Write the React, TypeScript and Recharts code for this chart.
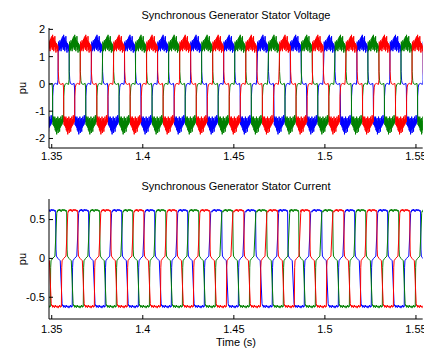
import { LineChart, Line, XAxis, YAxis } from 'recharts';

const FONT = '"Liberation Sans", Arial, Helvetica, sans-serif';

const timeTicks = [1.35, 1.4, 1.45, 1.5, 1.55];
const timeDomain = [1.3485, 1.5537];
const voltageTicks = [-2, -1, 0, 1, 2];
const voltageDomain = [-2.35, 2.05];
const currentTicks = [-0.5, 0, 0.5];
const currentDomain = [-0.78, 0.765];

// electrical period (11 cycles over 0.2 s)
const period = 0.01822;

// centres of the blue phase's positive plateau in each plot (s)
const voltageCentres = [
  1.3202, 1.3384, 1.3566, 1.3749, 1.393, 1.4112, 1.4293, 1.4475, 1.466, 1.484,
  1.5025, 1.5206, 1.5388, 1.5569,
];
const currentCentres = [
  1.3315, 1.3496, 1.3677, 1.3859, 1.404, 1.4221, 1.4408, 1.4594, 1.477, 1.4957,
  1.5138, 1.5319, 1.55,
];

const phases = [
  { name: 'a', color: '#0000ff', lag: 0 },
  { name: 'b', color: '#008000', lag: 120 },
  { name: 'c', color: '#ff0000', lag: 240 },
];

// one cycle of each trace: [degrees from plateau centre, pu]
const voltageCycle: [number, number][] = [
  [-60, 1.1], [-57, 1.55], [-53, 1.2], [-49, 1.5], [-45, 1.25], [-41, 1.6], [-37, 1.3],
  [-33, 1.55], [-29, 1.2], [-25, 1.65], [-21, 1.3], [-17, 1.7], [-13, 1.35], [-9, 1.75],
  [-5, 1.25], [-1, 1.8], [3, 1.3], [7, 1.7], [11, 1.2], [15, 1.6], [19, 1.35], [23, 1.75],
  [27, 1.25], [31, 1.55], [35, 1.15], [39, 1.5], [43, 1.3], [47, 1.45], [51, 1.2], [55, 1.4],
  [58, 1.1],
  [60, 0.45], [66, 0.12], [72, 0.02], [90, -0.02], [112, 0.02], [117, -0.15],
  [120, -1.1], [123, -1.5], [127, -1.2], [131, -1.55], [135, -1.25], [139, -1.6], [143, -1.2],
  [147, -1.7], [151, -1.3], [155, -1.75], [159, -1.25], [163, -1.85], [167, -1.35], [171, -1.7],
  [175, -1.2], [179, -1.8], [183, -1.3], [187, -1.65], [191, -1.25], [195, -1.75], [199, -1.35],
  [203, -1.6], [207, -1.2], [211, -1.55], [215, -1.3], [219, -1.5], [223, -1.15], [227, -1.45],
  [231, -1.25], [235, -1.4], [238, -1.1],
  [240, -0.45], [246, -0.12], [252, -0.02], [270, 0.02], [292, -0.02], [297, 0.15],
];

const currentCycle: [number, number][] = [
  [-50, 0.6], [-45, 0.625], [-40, 0.61], [-35, 0.63], [-30, 0.615], [-25, 0.635], [-20, 0.61],
  [-15, 0.625], [-10, 0.6], [-5, 0.62], [0, 0.63], [5, 0.615], [10, 0.635], [15, 0.62],
  [20, 0.61], [25, 0.63], [30, 0.615], [35, 0.625], [40, 0.605], [45, 0.62], [50, 0.6],
  [54, 0.12], [58, 0.03], [75, 0.0], [100, -0.03], [120, -0.58], [126, -0.61],
  [130, -0.6], [135, -0.63], [140, -0.605], [145, -0.625], [150, -0.61], [155, -0.635], [160, -0.62],
  [165, -0.6], [170, -0.625], [175, -0.615], [180, -0.63], [185, -0.61], [190, -0.62],
  [195, -0.64], [200, -0.615], [205, -0.625], [210, -0.6], [215, -0.62], [220, -0.63],
  [225, -0.61], [230, -0.62],
  [234, -0.12], [238, -0.03], [255, 0.0], [280, 0.03], [300, 0.58], [306, 0.61],
];

function buildPhase(centres: number[], cycle: [number, number][], lag: number) {
  const pts: { t: number; v: number }[] = [];
  for (const c of centres) {
    for (const [deg, v] of cycle) {
      pts.push({ t: c + ((deg + lag) / 360) * period, v });
    }
  }
  return pts;
}

const tickStyle = { fill: '#000', fontSize: 11, fontFamily: FONT };
const fmt = (v: number) => String(v);

type PanelProps = {
  top: number;
  margin: { top: number; right: number; bottom: number; left: number };
  xTickMargin: number;
  yDomain: number[];
  yTicks: number[];
  centres: number[];
  cycle: [number, number][];
};

function Panel({ top, margin, xTickMargin, yDomain, yTicks, centres, cycle }: PanelProps) {
  return (
    <div style={{ position: 'absolute', left: 0, top }}>
      <LineChart width={424} height={176} margin={margin}>
        <XAxis
          dataKey="t"
          type="number"
          domain={timeDomain}
          ticks={timeTicks}
          allowDataOverflow
          height={20}
          tickSize={-4}
          tickMargin={xTickMargin}
          tickFormatter={fmt}
          tick={tickStyle}
          stroke="#000"
          interval={0}
        />
        <XAxis
          xAxisId="top"
          orientation="top"
          type="number"
          domain={timeDomain}
          ticks={timeTicks}
          allowDataOverflow
          height={0}
          tickSize={-4}
          tick={false}
          stroke="#000"
          interval={0}
        />
        <YAxis
          type="number"
          domain={yDomain}
          ticks={yTicks}
          allowDataOverflow
          width={40}
          tickSize={-4}
          tickMargin={8}
          tickFormatter={fmt}
          tick={tickStyle}
          stroke="#000"
          interval={0}
        />
        <YAxis
          yAxisId="r"
          orientation="right"
          type="number"
          domain={yDomain}
          ticks={yTicks}
          allowDataOverflow
          width={0}
          tickSize={-4}
          tick={false}
          stroke="#000"
          interval={0}
        />
        {phases.map((p) => (
          <Line
            key={p.name}
            data={buildPhase(centres, cycle, p.lag)}
            dataKey="v"
            type="linear"
            stroke={p.color}
            strokeWidth={1}
            dot={false}
            activeDot={false}
            isAnimationActive={false}
          />
        ))}
      </LineChart>
    </div>
  );
}

const textStyle: React.CSSProperties = {
  position: 'absolute',
  fontFamily: FONT,
  fontSize: 11,
  lineHeight: '13px',
  color: '#000',
  whiteSpace: 'nowrap',
};

export default function App() {
  return (
    <div style={{ position: 'absolute', left: 0, top: 0, width: 424, height: 352, background: '#fff' }}>
      <Panel
        top={0}
        margin={{ top: 28, right: 1.3, bottom: 8, left: 9 }}
        xTickMargin={8}
        yDomain={voltageDomain}
        yTicks={voltageTicks}
        centres={voltageCentres}
        cycle={voltageCycle}
      />
      <Panel
        top={176}
        margin={{ top: 23, right: 1.3, bottom: 13, left: 9 }}
        xTickMargin={10}
        yDomain={currentDomain}
        yTicks={currentTicks}
        centres={currentCentres}
        cycle={currentCycle}
      />
      <div style={{ ...textStyle, left: 236, top: 9, transform: 'translateX(-50%)' }}>
        Synchronous Generator Stator Voltage
      </div>
      <div style={{ ...textStyle, left: 236, top: 180, transform: 'translateX(-50%)' }}>
        Synchronous Generator Stator Current
      </div>
      <div style={{ ...textStyle, left: 236, top: 336, transform: 'translateX(-50%)' }}>
        Time (s)
      </div>
      <div style={{ ...textStyle, left: 22, top: 88, transform: 'translate(-50%, -50%) rotate(-90deg)' }}>
        pu
      </div>
      <div style={{ ...textStyle, left: 22, top: 259, transform: 'translate(-50%, -50%) rotate(-90deg)' }}>
        pu
      </div>
    </div>
  );
}
